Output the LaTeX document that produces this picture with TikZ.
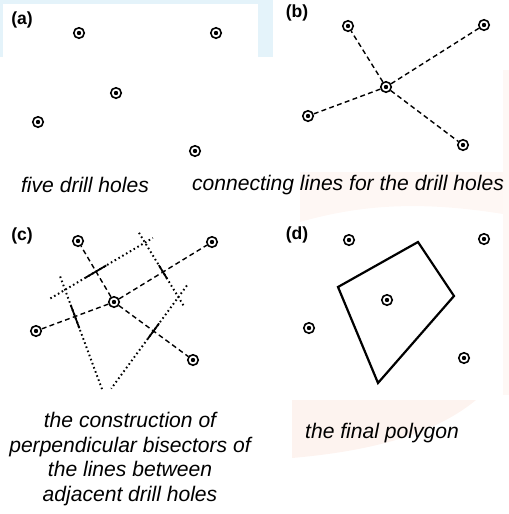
\documentclass[tikz,border=0pt]{standalone}
\usepackage{fontspec}
\setmainfont{Liberation Sans}
\usetikzlibrary{positioning, calc, backgrounds}

\definecolor{paleblue}{RGB}{228,243,250}
\definecolor{palepeach}{RGB}{253,243,239}

\begin{document}
\begin{tikzpicture}[
    x=0.02cm, y=-0.02cm,
    hole/.style={circle, draw, line width=0.9pt, inner sep=0pt, minimum size=0.21cm,
        path picture={\fill (path picture bounding box.center) circle (1.25pt);}},
    link/.style={line width=0.8pt, dash pattern=on 2.8pt off 1.9pt},
    bisector/.style={line width=1.1pt, dash pattern=on 0.9pt off 1.6pt},
    tick/.style={line width=1pt},
    cell/.style={line width=1.25pt, line join=miter},
    panel/.style={font=\fontsize{10}{12}\selectfont\bfseries, inner sep=0pt},
    caption/.style={font=\fontsize{12}{14}\selectfont\itshape, align=center, inner sep=0pt}
]
    \useasboundingbox (0,0) rectangle (509,514);

    % (a) five drill holes
    \node[panel] at (22,20) (lab_a) {(a)};
    \node[hole] at (79,33)   (a1) {};
    \node[hole] at (216,33)  (a2) {};
    \node[hole] at (116,93)  (a3) {};
    \node[hole] at (38,122)  (a4) {};
    \node[hole] at (195,151) (a5) {};
    \node[caption] at (85,185) (cap_a) {five drill holes};

    % (b) connecting lines
    \node[panel] at (297,13) (lab_b) {(b)};
    \node[hole] at (348,26)  (b1) {};
    \node[hole] at (484,25)  (b2) {};
    \node[hole] at (386,87)  (b3) {};
    \node[hole] at (308,116) (b4) {};
    \node[hole] at (463,145) (b5) {};
    \node[caption] at (348,185) (cap_b) {connecting lines for the drill holes};

    \foreach \h in {1,2,4,5}
        \draw[link] (b3) -- (b\h);

    % (c) perpendicular bisectors
    \node[panel] at (22,236) (lab_c) {(c)};
    \node[hole] at (78,241)  (c1) {};
    \node[hole] at (212,242) (c2) {};
    \node[hole] at (114,302) (c3) {};
    \node[hole] at (36,331)  (c4) {};
    \node[hole] at (193,360) (c5) {};
    \node[caption] at (130,459) (cap_c) {the construction of\\perpendicular bisectors of\\the lines between\\adjacent drill holes};

    \foreach \h in {1,2,4,5}
        \draw[link] (c3) -- (c\h);
    \foreach \h in {1,2,4,5}
        \coordinate (m\h) at ($(c3.center)!0.5!(c\h.center)$);
    \foreach \h/\l/\r/\t in {1/1.06cm/1.32cm/0.24cm, 2/0.92cm/0.82cm/0.16cm,
                             4/1.55cm/0.86cm/0.25cm, 5/1.13cm/1.43cm/0.19cm} {
        \draw[bisector] ($(m\h)!\l!90:(c\h.center)$) -- ($(m\h)!\r!-90:(c\h.center)$);
        \draw[tick] ($(m\h)!\t!90:(c\h.center)$) -- ($(m\h)!\t!-90:(c\h.center)$);
    }

    % (d) final polygon
    \node[panel] at (297,235) (lab_d) {(d)};
    \node[hole] at (349,240) (d1) {};
    \node[hole] at (484,239) (d2) {};
    \node[hole] at (387,300) (d3) {};
    \node[hole] at (309,328) (d4) {};
    \node[hole] at (464,358) (d5) {};
    \node[caption] at (382,433) (cap_d) {the final polygon};

    \coordinate (p1) at (338,287);
    \coordinate (p2) at (418,242);
    \coordinate (p3) at (454,296);
    \coordinate (p4) at (378,383);
    \draw[cell] (p1) -- (p2) -- (p3) -- (p4) -- cycle;

    \begin{scope}[on background layer]
        \fill[paleblue] (0,0) rectangle (273,57);
        \fill[white] (3,4) rectangle (258,57);
        \fill[palepeach] (292,400) -- (476,400) .. controls (430,438) and (360,452) .. (292,458) -- cycle;
        \fill[palepeach!70] (300,172) -- (509,172) -- (509,215) .. controls (420,200) and (360,205) .. (300,222) -- cycle;
        \fill[palepeach!60] (503,70) rectangle (509,395);
    \end{scope}
\end{tikzpicture}
\end{document}
